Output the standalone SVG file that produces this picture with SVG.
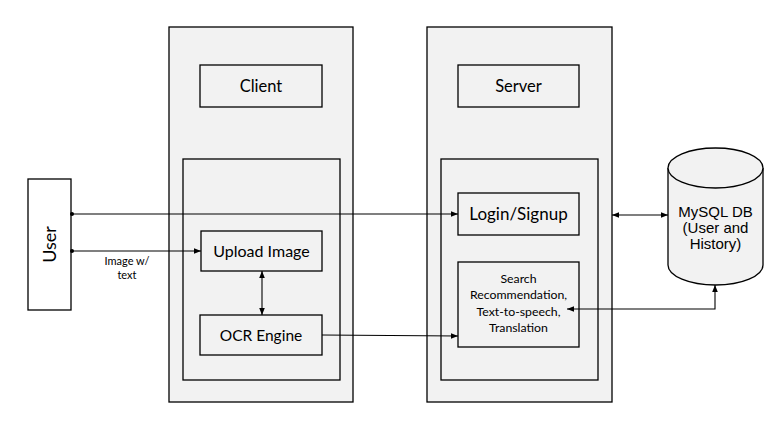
<svg xmlns="http://www.w3.org/2000/svg" width="772" height="436" viewBox="0 0 772 436">
<style>
.box{fill:#f2f2f2;stroke:#000;stroke-width:1.3}
.wb{fill:#f2f2f2;stroke:#000;stroke-width:1.3}
.ln{fill:none;stroke:#000;stroke-width:1.1}
.t{font-family:Lato,"Open Sans",sans-serif;fill:#000;text-anchor:middle}
.a{font-family:"Liberation Sans",Arial,sans-serif;fill:#000;text-anchor:middle}
</style>
<defs>
<marker id="ah" viewBox="0 0 10 10" refX="10" refY="5" markerWidth="7" markerHeight="7" markerUnits="userSpaceOnUse" orient="auto-start-reverse">
<path d="M0,1 L10,5 L0,9 Z" fill="#000"/>
</marker>
<marker id="dot" viewBox="0 0 10 10" refX="5" refY="5" markerWidth="4" markerHeight="4" markerUnits="userSpaceOnUse">
<circle cx="5" cy="5" r="5" fill="#000"/>
</marker>
</defs>
<rect width="772" height="436" fill="#fff"/>
<g id="client">
<rect class="box" x="169" y="27" width="184" height="375"/>
<rect class="box" x="183" y="159" width="157" height="221"/>
</g>
<g id="server">
<rect class="box" x="427" y="27" width="185" height="375"/>
<rect class="box" x="441" y="159" width="157" height="221"/>
</g>
<g id="client-label">
<rect class="box" x="200" y="65" width="122" height="42"/>
<text class="t" x="261" y="92" font-size="16.5">Client</text>
</g>
<g id="server-label">
<rect class="box" x="458" y="65" width="121" height="42"/>
<text class="t" x="518.5" y="92" font-size="16.5">Server</text>
</g>
<g id="user">
<rect fill="#fff" stroke="#000" stroke-width="1.3" x="28" y="179" width="43" height="131"/>
<text class="t" transform="translate(55.5,244.5) rotate(-90)" font-size="18">User</text>
</g>
<g id="upload-image">
<rect class="box" x="201" y="231" width="121" height="40"/>
<text class="t" x="261.5" y="257" font-size="16">Upload Image</text>
</g>
<g id="ocr-engine">
<rect class="box" x="200" y="315" width="122" height="40"/>
<text class="t" x="261" y="341" font-size="15.5">OCR Engine</text>
</g>
<g id="login-signup">
<rect class="box" x="458" y="193" width="121" height="42"/>
<text class="t" x="518.5" y="220" font-size="17">Login/Signup</text>
</g>
<g id="services">
<rect class="box" x="458" y="262" width="121" height="85"/>
<text class="t" x="518.5" y="283" font-size="12.3">Search</text>
<text class="t" x="518.5" y="299" font-size="12.3">Recommendation,</text>
<text class="t" x="518.5" y="315.5" font-size="12.3">Text-to-speech,</text>
<text class="t" x="518.5" y="332" font-size="12.3">Translation</text>
</g>
<g id="mysql-db">
<path class="wb" d="M668,168 L668,265 A47.5,20 0 0 0 763,265 L763,168"/>
<ellipse class="wb" cx="715.5" cy="168" rx="47.5" ry="20"/>
<text class="a" x="715.5" y="217" font-size="15">MySQL DB</text>
<text class="a" x="715.5" y="233" font-size="15">(User and</text>
<text class="a" x="715.5" y="249" font-size="15">History)</text>
</g>
<g id="connectors">
<path class="ln" d="M72,214 L458,214" marker-start="url(#dot)" marker-end="url(#ah)"/>
<path class="ln" d="M72,251 L201,251" marker-start="url(#dot)" marker-end="url(#ah)"/>
<path class="ln" d="M262,271 L262,315" marker-start="url(#ah)" marker-end="url(#ah)"/>
<path class="ln" d="M322,335 L458,336" marker-end="url(#ah)"/>
<path class="ln" d="M612,215 L668,215" marker-start="url(#ah)" marker-end="url(#ah)"/>
<path class="ln" d="M715,285 L715,309 L567,309" marker-start="url(#ah)" marker-end="url(#ah)"/>
<text class="t" x="127" y="265" font-size="11">Image w/</text>
<text class="t" x="127" y="279" font-size="11">text</text>
</g>
</svg>
